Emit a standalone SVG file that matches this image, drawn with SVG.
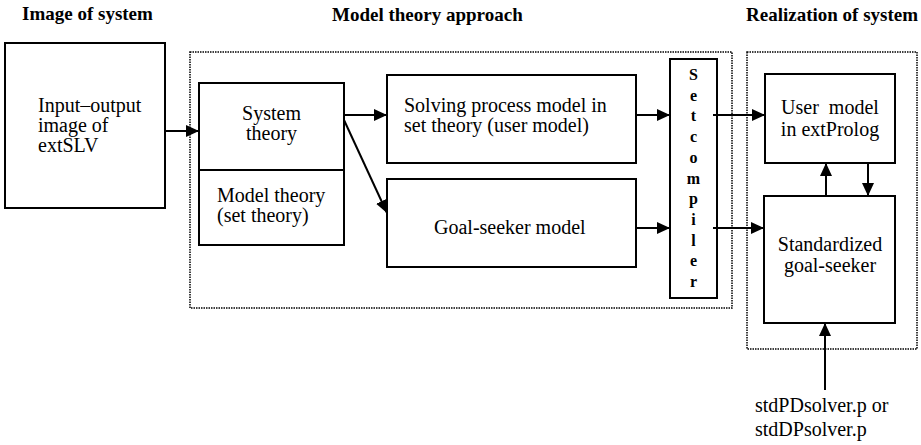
<svg xmlns="http://www.w3.org/2000/svg" width="921" height="445" viewBox="0 0 921 445">
  <style>
    .box { fill: #fff; stroke: #000; stroke-width: 2; }
    .frame { fill: none; stroke: #000; stroke-width: 1.5; stroke-dasharray: 1.5 1; }
    text { font-family: "Liberation Serif", "DejaVu Serif", "Noto Serif", serif; fill: #000; }
    .txt { font-size: 20px; }
    .ttl { font-size: 19px; font-weight: bold; }
    .vert { font-size: 16px; font-weight: bold; text-anchor: middle; }
    .mid { text-anchor: middle; }
    .link { fill: none; stroke: #000; stroke-width: 2; marker-end: url(#head); }
  </style>
  <defs>
    <marker id="head" markerUnits="userSpaceOnUse" markerWidth="14" markerHeight="12" refX="13" refY="6" orient="auto">
      <path d="M0,0 L13,6 L0,12 Z" fill="#000"/>
    </marker>
  </defs>
  <rect width="921" height="445" fill="#fff"/>

  <!-- column headings -->
  <text class="ttl" x="22" y="20">Image of system</text>
  <text class="ttl" x="332" y="21">Model theory approach</text>
  <text class="ttl" x="746" y="21">Realization of system</text>

  <!-- dotted frames -->
  <rect id="frame-model" class="frame" x="190" y="52" width="542" height="256"/>
  <rect id="frame-realization" class="frame" x="747" y="52" width="170" height="297"/>

  <g id="io-image">
    <rect class="box" x="5" y="43" width="160" height="165"/>
    <text class="txt" x="38" y="112">Input–output</text>
    <text class="txt" x="38" y="132">image of</text>
    <text class="txt" x="38" y="152">extSLV</text>
  </g>

  <g id="system-theory">
    <rect class="box" x="199" y="83" width="145" height="87"/>
    <text class="txt mid" x="271.5" y="120">System</text>
    <text class="txt mid" x="271.5" y="140">theory</text>
  </g>

  <g id="model-theory">
    <rect class="box" x="199" y="170" width="145" height="75"/>
    <text class="txt" x="217" y="202">Model theory</text>
    <text class="txt" x="217" y="222">(set theory)</text>
  </g>

  <g id="solving-process">
    <rect class="box" x="387" y="75" width="249" height="88"/>
    <text class="txt" x="404" y="112">Solving process model in</text>
    <text class="txt" x="404" y="132">set theory (user model)</text>
  </g>

  <g id="goal-seeker-model">
    <rect class="box" x="387" y="179" width="249" height="88"/>
    <text class="txt" x="434" y="234">Goal-seeker model</text>
  </g>

  <g id="setcompiler">
    <rect class="box" x="670" y="59" width="47" height="239"/>
    <text class="vert" x="693.5" y="80">S</text>
    <text class="vert" x="693.5" y="100.7">e</text>
    <text class="vert" x="693.5" y="121.4">t</text>
    <text class="vert" x="693.5" y="142.1">c</text>
    <text class="vert" x="693.5" y="162.8">o</text>
    <text class="vert" x="693.5" y="183.5">m</text>
    <text class="vert" x="693.5" y="204.2">p</text>
    <text class="vert" x="693.5" y="224.9">i</text>
    <text class="vert" x="693.5" y="245.6">l</text>
    <text class="vert" x="693.5" y="266.3">e</text>
    <text class="vert" x="693.5" y="287">r</text>
  </g>

  <g id="user-model">
    <rect class="box" x="765" y="74" width="130" height="89"/>
    <text class="txt mid" x="830" y="114" xml:space="preserve">User  model</text>
    <text class="txt mid" x="830" y="136">in extProlog</text>
  </g>

  <g id="standard-goal-seeker">
    <rect class="box" x="764" y="196" width="131" height="127"/>
    <text class="txt mid" x="830" y="251">Standardized</text>
    <text class="txt mid" x="830" y="272">goal-seeker</text>
  </g>

  <g id="solver-files">
    <text class="txt" x="755" y="412">stdPDsolver.p or</text>
    <text class="txt" x="755" y="436">stdDPsolver.p</text>
  </g>

  <g id="connectors">
    <line class="link" x1="165" y1="131" x2="199" y2="131"/>
    <line class="link" x1="344" y1="115" x2="387" y2="115"/>
    <line class="link" x1="344" y1="120" x2="387" y2="213"/>
    <line class="link" x1="636" y1="115" x2="670" y2="115"/>
    <line class="link" x1="636" y1="228" x2="670" y2="228"/>
    <line class="link" x1="713" y1="115" x2="765" y2="115"/>
    <line class="link" x1="713" y1="228" x2="764" y2="228"/>
    <line class="link" x1="826" y1="196" x2="826" y2="163"/>
    <line class="link" x1="868" y1="163" x2="868" y2="196"/>
    <line class="link" x1="825" y1="390" x2="825" y2="323"/>
  </g>
</svg>
